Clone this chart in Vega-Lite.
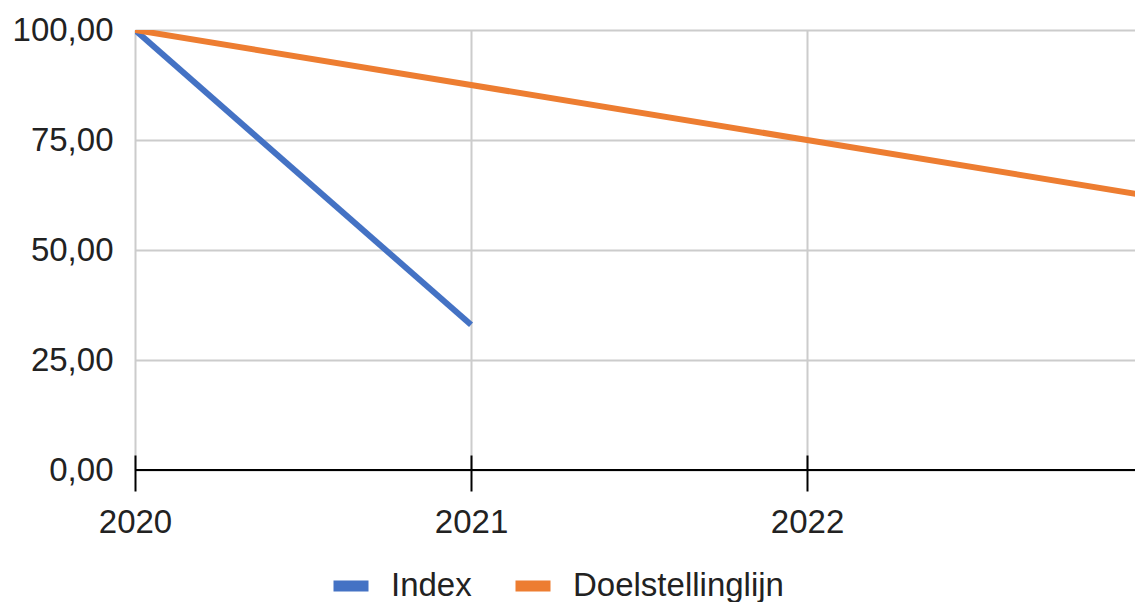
{
  "$schema": "https://vega.github.io/schema/vega-lite/v6.json",
  "width": 1000,
  "height": 440,
  "autosize": "none",
  "padding": {"left": 135, "top": 30, "right": 0, "bottom": 132},
  "config": {"view": {"stroke": null}, "font": "Liberation Sans"},
  "data": {
    "values": [
      {"year": 2020, "series": "Index", "value": 100},
      {"year": 2021, "series": "Index", "value": 33},
      {"year": 2020, "series": "Doelstellinglijn", "value": 100},
      {"year": 2021, "series": "Doelstellinglijn", "value": 87.5},
      {"year": 2022, "series": "Doelstellinglijn", "value": 75},
      {"year": 2023, "series": "Doelstellinglijn", "value": 62.5}
    ]
  },
  "layer": [
    {
      "mark": {"type": "line", "strokeWidth": 6, "clip": true},
      "encoding": {
        "x": {
          "field": "year",
          "type": "quantitative",
          "scale": {"domain": [2020, 2022.976], "nice": false, "zero": false},
          "axis": {
            "values": [2020, 2021, 2022],
            "format": "d",
            "offset": -15,
            "tickSize": 36,
            "tickWidth": 2,
            "tickColor": "black",
            "domain": false,
            "grid": true,
            "gridColor": "#cccccc",
            "gridWidth": 2,
            "labelFontSize": 33,
            "labelColor": "#222222",
            "labelPadding": 15,
            "labelFlush": false,
            "title": null
          }
        },
        "y": {
          "field": "value",
          "type": "quantitative",
          "scale": {"domain": [0, 100], "nice": false},
          "axis": {
            "values": [0, 25, 50, 75, 100],
            "labelExpr": "replace(format(datum.value, '.2f'), '.', ',')",
            "ticks": false,
            "domain": false,
            "grid": true,
            "gridColor": "#cccccc",
            "gridWidth": 2,
            "labelFontSize": 33,
            "labelColor": "#222222",
            "labelPadding": 22,
            "title": null
          }
        },
        "color": {
          "field": "series",
          "type": "nominal",
          "scale": {"domain": ["Index", "Doelstellinglijn"], "range": ["#4472C4", "#ED7D31"]},
          "legend": {
            "orient": "none",
            "legendX": 193,
            "legendY": 533,
            "direction": "horizontal",
            "title": null,
            "symbolType": "stroke",
            "symbolSize": 1225,
            "symbolStrokeWidth": 11,
            "labelFontSize": 33,
            "labelColor": "#222222",
            "labelLimit": 400,
            "labelOffset": 17,
            "columnPadding": 21
          }
        }
      }
    },
    {
      "mark": {"type": "rule", "color": "black", "strokeWidth": 2},
      "encoding": {"y": {"datum": 0, "type": "quantitative"}}
    }
  ]
}
